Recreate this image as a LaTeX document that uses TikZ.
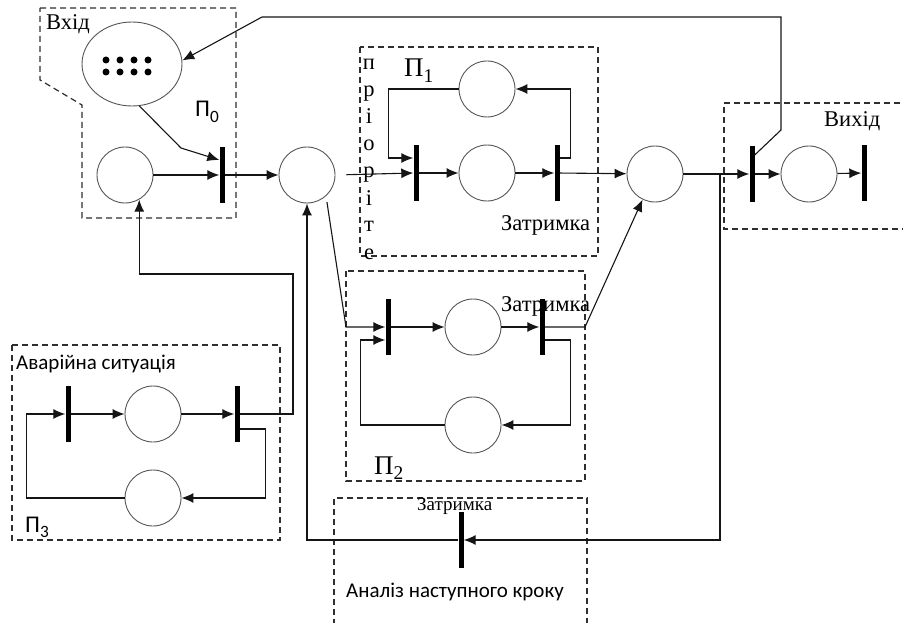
\documentclass[tikz,border=0pt]{standalone}
\usepackage{fontspec}
\setmainfont{Liberation Serif}
\newfontfamily\labelsans{Carlito}
\usetikzlibrary{arrows.meta, positioning, calc, shapes.geometric}
\definecolor{placeline}{HTML}{555555}
\definecolor{boxline}{HTML}{2E2E2E}
\definecolor{wireline}{HTML}{151515}
\tikzset{
  place/.style={circle, draw=placeline, line width=0.9pt, minimum size=56pt, inner sep=0pt},
  buffer/.style={ellipse, draw=placeline, line width=0.9pt, minimum width=100pt,
                 minimum height=84pt, inner sep=0pt},
  bar/.style={rectangle, fill=black, minimum width=5pt, minimum height=56pt, inner sep=0pt},
  token/.style={circle, fill=black, minimum size=7pt, inner sep=0pt},
  region/.style={draw=boxline, dash pattern=on 6pt off 4pt, line width=1.2pt},
  flow/.style={-{Latex[length=12pt,width=10pt]}, line width=1.1pt, draw=wireline},
  serlbl/.style={font=\fontsize{22.5pt}{26pt}\selectfont, inner sep=0pt},
  bigser/.style={font=\fontsize{27pt}{30pt}\selectfont, inner sep=0pt},
  smallser/.style={font=\fontsize{19pt}{22pt}\selectfont, inner sep=0pt},
  sanslbl/.style={font=\labelsans\fontsize{21pt}{25pt}\selectfont, inner sep=0pt},
  bigsans/.style={font=\labelsans\fontsize{24pt}{28pt}\selectfont, inner sep=0pt},
}
\newcommand{\idxsub}[1]{\raisebox{-0.22em}{\fontsize{0.72em}{0.72em}\selectfont #1}}

\begin{document}
\begin{tikzpicture}[x=1pt, y=-1pt]
\useasboundingbox (0,0) rectangle (903,623);

% Input buffer with tokens
\node[buffer] (inbuf) at (132,64) {};
\foreach \x in {106,120,134,148} {
  \foreach \y in {60,72} { \node[token] (tok-\x-\y) at (\x,\y) {}; }
}
\node[place] (p0)  at (125,175) {};
\node[bar]   (t0)  at (222,175) {};
\node[place] (mid) at (307,175) {};

% Priority block P1
\node[bar]   (t1a)   at (416,173) {};
\node[place] (p1low) at (487,173) {};
\node[bar]   (t1b)   at (557,173) {};
\node[place] (p1top) at (487,89)  {};

% Delay block P2
\node[bar]   (t2a)   at (388,327) {};
\node[place] (p2top) at (473,327) {};
\node[bar]   (t2b)   at (542,327) {};
\node[place] (p2low) at (473,425) {};

% Output
\node[place] (right) at (655,174) {};
\node[bar]   (tout)  at (752,174) {};
\node[place] (pout)  at (809,174) {};
\node[bar]   (tend)  at (864,173) {};

% Emergency block P3
\node[bar]   (te1) at (68,414)  {};
\node[place] (pe1) at (153,414) {};
\node[bar]   (te2) at (237,414) {};
\node[place] (pe2) at (153,498) {};

% Next step analysis
\node[bar] (tb) at (461,540) {};

% Bend points
\coordinate (fbA)   at (781,130);
\coordinate (fbB)   at (781,17);
\coordinate (fbC)   at (262,17);
\coordinate (bufmid) at (181,148);
\coordinate (p2in)  at (346,327);
\coordinate (p2out) at (585,327);
\coordinate (retTop) at (720,174);
\coordinate (retBot) at (720,540);
\coordinate (emUp)  at (293,274);

% Dashed regions
\draw[region] (40,8) -- (236,8) -- (236,218) -- (82,218) -- (82,105) -- (40,80) -- cycle;
\draw[region] (360,47) rectangle (598,256);
\draw[region] (346,271) rectangle (585,481);
\draw[region] (910,103) -| (724,229) -- (910,229);
\draw[region] (12,345) rectangle (280,540);
\draw[region] (334,625) |- (587,498) -- (587,625);

% Labels
\node[serlbl, anchor=base west] (inlbl) at (46,30) {Вхід};
\node[bigsans, anchor=base west] (p0lbl) at (195,117) {П\idxsub{0}};
\node[bigser, anchor=base west] (p1lbl) at (404,77) {П\idxsub{1}};
\foreach \ch [count=\i] in {п,р,і,о,р,і,т,е} {
  \node[serlbl, anchor=base] (prio\i) at (369,43+27*\i) {\ch};
}
\node[serlbl, anchor=base west] (dly1) at (501,230) {Затримка};
\node[serlbl, anchor=base west] (dly2) at (501,311) {Затримка};
\node[bigser, anchor=base west] (p2lbl) at (374,474) {П\idxsub{2}};
\node[serlbl, anchor=base west] (outlbl) at (824,127) {Вихід};
\node[sanslbl, anchor=base west] (emlbl) at (16,369) {Аварійна ситуація};
\node[bigsans, anchor=base west] (p3lbl) at (25,532) {П\idxsub{3}};
\node[smallser, anchor=base west] (dly3) at (417,510) {Затримка};
\node[sanslbl, anchor=base west] (anlbl) at (346,597) {Аналіз наступного кроку};

% Flow
\draw[flow] (p0) -- (t0);
\draw[flow] (inbuf.-80) -- (bufmid) -- ($(t0.west)+(0,-15)$);
\draw[flow] (t0) -- (mid);
\draw[flow] ($(tout.east)+(0,-19)$) -- (fbA) -- (fbB) -- (fbC) -- (inbuf.4);

\draw[flow, shorten <=11pt] (mid.east) -- (t1a.west);
\draw[flow] (t1a) -- (p1low);
\draw[flow] (p1low) -- (t1b);
\draw[flow] ($(t1b.east)+(0,-15)$) -| ($(p1top.east)+(55,0)$) -- (p1top.east);
\draw[flow] (p1top.west) -| ($(t1a.west)+(-25,-15)$) -- ($(t1a.west)+(0,-15)$);
\draw[flow] (t1b) -- (right);

\draw[flow, shorten <=6pt] (mid.-48) -- (p2in) -- (t2a.west);
\draw[flow] (t2a) -- (p2top);
\draw[flow] (p2top) -- (t2b);
\draw[flow] ($(t2b.east)+(0,13)$) -| ($(p2low.east)+(69,0)$) -- (p2low.east);
\draw[flow] (p2low.west) -| ($(t2a.west)+(-25,13)$) -- ($(t2a.west)+(0,13)$);
\draw[flow] (t2b.east) -- (p2out) -- (right.-116);

\draw[flow] (right) -- (tout);
\draw[flow] (tout) -- (pout);
\draw[flow] (pout) -- (tend);

\draw[flow] (retTop) -- (retBot) -- (tb.east);
\draw[flow] (tb.west) -| (mid.south);

\draw[flow] (te1) -- (pe1);
\draw[flow] (pe1) -- (te2);
\draw[flow] ($(te2.east)+(0,15)$) -| ($(pe2.east)+(84,0)$) -- (pe2.east);
\draw[flow] (pe2.west) -| ($(te1.west)+(-39,0)$) -- (te1.west);
\draw[flow] (te2.east) -| (emUp) -| (p0.-60);

\end{tikzpicture}
\end{document}
